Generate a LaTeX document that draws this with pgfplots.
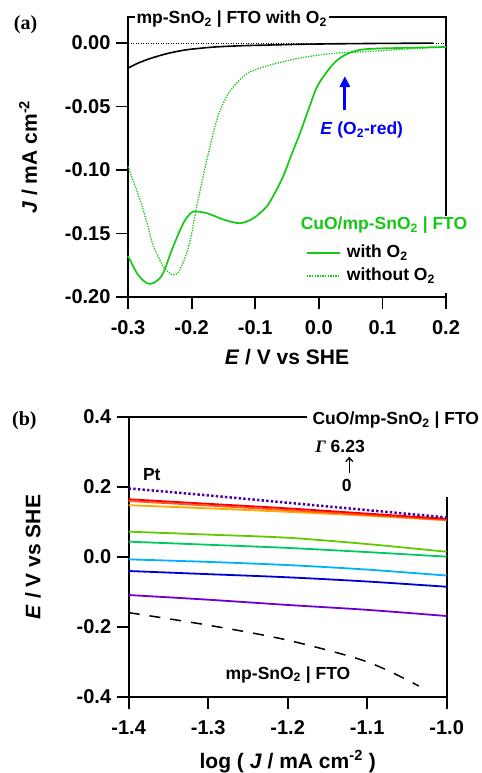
\documentclass[border=0pt]{standalone}
\usepackage{fontspec}
\setmainfont{Liberation Sans}
\newfontfamily\serif{Liberation Serif}
\usepackage{pgfplots}
\pgfplotsset{compat=1.18}
\usetikzlibrary{arrows.meta}

\definecolor{cuogreen}{RGB}{20,200,20}
\definecolor{ptpurple}{RGB}{75,0,160}
\definecolor{c1}{RGB}{255,0,0}
\definecolor{c2}{RGB}{255,90,30}
\definecolor{c3}{RGB}{255,170,0}
\definecolor{c4}{RGB}{100,200,0}
\definecolor{c5}{RGB}{0,200,100}
\definecolor{c6}{RGB}{0,175,255}
\definecolor{c7}{RGB}{0,0,210}
\definecolor{c8}{RGB}{110,0,210}

\newcommand{\tk}{\fontsize{20bp}{24bp}\selectfont\bfseries}
\newcommand{\lb}{\fontsize{21bp}{25bp}\selectfont\bfseries}
\newcommand{\an}{\fontsize{17.5bp}{21bp}\selectfont\bfseries}
\newcommand{\pl}{\fontsize{20bp}{24bp}\selectfont\serif\bfseries}

\pgfplotsset{
  panel/.style={
    scale only axis, width=318bp, height=280bp, anchor=south west,
    axis line style={line width=1.8bp},
    tick align=outside, tick pos=left,
    major tick length=12bp,
    tick style={black, line width=1.8bp},
    tick label style={font=\tk},
    xticklabel style={yshift=-8bp},
    yticklabel style={xshift=-2bp},
    label style={font=\lb},
    clip=false,
  }
}

\begin{document}
\begin{tikzpicture}
\path[use as bounding box] (0,0) rectangle (482bp,773bp);

% ---------- (a) ----------
\begin{axis}[panel,
  at={(128bp,476bp)},
  xmin=-0.3, xmax=0.2, ymin=-0.2, ymax=0.0205,
  xtick={-0.3,-0.2,-0.1,0,0.1,0.2},
  xticklabels={-0.3,-0.2,-0.1,0.0,0.1,0.2},
  ytick={-0.2,-0.15,-0.1,-0.05,0},
  yticklabels={-0.20,-0.15,-0.10,-0.05,0.00},
  xlabel={\textit{E} / V vs SHE},
  ylabel={\textit{J} / mA cm\textsuperscript{-2}},
  xlabel style={at={(axis description cs:0.5,-0.213)}, anchor=center},
  ylabel style={at={(axis description cs:-0.314,0.5)}, anchor=center},
  legend style={at={(axis cs:-0.0206,-0.1747)}, anchor=west, draw=none,
    fill=none, inner sep=0pt, row sep=2bp, font=\an,
    nodes={inner sep=1bp, text height=14bp, text depth=5bp}},
  legend cell align=left,
  legend image code/.code={\draw[#1, line width=2bp] (0bp,0.5bp) -- (33bp,0.5bp);},
]
% white mask behind the legend block (hides the right axis line there)
\fill[white] (axis cs:-0.03,-0.136) rectangle (axis cs:0.21,-0.197);
% zero line
\addplot[black, line width=1bp, dash pattern=on 1bp off 1.5bp, forget plot]
  coordinates {(-0.3,0) (0.2,0)};
% mp-SnO2 | FTO with O2
\addplot[black, line width=1.6bp, smooth, forget plot] coordinates {
  (-0.3,-0.0198) (-0.285,-0.0160) (-0.265,-0.0122) (-0.24,-0.0085)
  (-0.213,-0.0057) (-0.19,-0.0043) (-0.16,-0.0030) (-0.12,-0.0021)
  (-0.08,-0.0016) (-0.03,-0.0010) (0.03,-0.0006) (0.1,-0.0003) (0.18,-0.0001)};
% CuO/mp-SnO2 | FTO with O2
\addplot[cuogreen, line width=1.7bp, smooth] coordinates {
  (-0.3,-0.1677) (-0.2863,-0.181) (-0.275,-0.1875) (-0.2654,-0.1897)
  (-0.255,-0.1875) (-0.2445,-0.181) (-0.2288,-0.160) (-0.213,-0.1419)
  (-0.205,-0.136) (-0.197,-0.1327) (-0.176,-0.134) (-0.150,-0.139)
  (-0.124,-0.1419) (-0.103,-0.138) (-0.082,-0.1288) (-0.069,-0.118)
  (-0.056,-0.105) (-0.043,-0.088) (-0.0296,-0.0711) (-0.016,-0.052)
  (-0.0033,-0.0350) (0.01,-0.0245) (0.0228,-0.0165) (0.035,-0.0112)
  (0.049,-0.0076) (0.062,-0.0057) (0.075,-0.0048) (0.1,-0.0042)
  (0.127,-0.0039) (0.2,-0.0031)};
\addlegendentry{\hspace*{5bp}with O\textsubscript{2}}
% CuO/mp-SnO2 | FTO without O2
\addplot[cuogreen, line width=1.3bp, dash pattern=on 1.3bp off 1.3bp, smooth] coordinates {
  (-0.3,-0.0973) (-0.29,-0.111) (-0.281,-0.1236) (-0.27,-0.142)
  (-0.260,-0.160) (-0.2445,-0.176) (-0.235,-0.181) (-0.2288,-0.1826)
  (-0.22,-0.180) (-0.2077,-0.1655) (-0.2,-0.15) (-0.192,-0.1288)
  (-0.184,-0.110) (-0.176,-0.092) (-0.1605,-0.0606) (-0.147,-0.044)
  (-0.1344,-0.0344) (-0.12,-0.027) (-0.108,-0.0226) (-0.08,-0.0178)
  (-0.056,-0.0147) (-0.02,-0.011) (0.023,-0.0081) (0.075,-0.0068)
  (0.13,-0.005) (0.2,-0.003)};
\addlegendentry{\hspace*{5bp}without O\textsubscript{2}}

\node[font=\an, fill=white, inner xsep=2bp, inner ysep=1bp, anchor=west]
  at (axis cs:-0.290,0.0185) {mp-SnO\textsubscript{2} | FTO with O\textsubscript{2}};
\node[font=\an, text=cuogreen, fill=white, inner sep=1bp]
  at (axis cs:0.1025,-0.1435) {CuO/mp-SnO\textsubscript{2} | FTO};
\draw[blue, line width=2.8bp, -{Triangle[length=11bp,width=10bp]}]
  (axis cs:0.041,-0.0527) -- (axis cs:0.041,-0.026);
\node[font=\an, text=blue] at (axis cs:0.0675,-0.0685)
  {\textit{E} (O\textsubscript{2}-red)};
\node[font=\pl] at (rel axis cs:-0.322,0.971) {(a)};
\end{axis}

% ---------- (b) ----------
\begin{axis}[panel,
  at={(128.7bp,76bp)},
  xmin=-1.4, xmax=-1.0, ymin=-0.4, ymax=0.4,
  xtick={-1.4,-1.3,-1.2,-1.1,-1.0},
  xticklabels={-1.4,-1.3,-1.2,-1.1,-1.0},
  ytick={-0.4,-0.2,0,0.2,0.4},
  yticklabels={-0.4,-0.2,0.0,0.2,0.4},
  xlabel={log ( \textit{J} / mA cm\textsuperscript{-2} )},
  ylabel={\textit{E} / V vs SHE},
  xlabel style={at={(axis description cs:0.5,-0.231)}, anchor=center},
  ylabel style={at={(axis description cs:-0.301,0.5)}, anchor=center},
  every axis plot/.append style={line width=1.8bp},
]
\addplot[black, line width=1.5bp, dash pattern=on 11bp off 10bp, smooth] coordinates {
  (-1.4,-0.159) (-1.302,-0.194) (-1.2013,-0.237) (-1.1006,-0.299) (-1.035,-0.3686)};
\addplot[c8, smooth] coordinates {(-1.4,-0.1086) (-1.3,-0.122) (-1.2,-0.137) (-1.1,-0.151) (-1.0,-0.1686)};
\addplot[c7, smooth] coordinates {(-1.4,-0.040) (-1.3,-0.049) (-1.2,-0.058) (-1.1,-0.070) (-1.0,-0.085)};
\addplot[c6, smooth] coordinates {(-1.4,-0.0067) (-1.3,-0.014) (-1.2,-0.023) (-1.1,-0.036) (-1.0,-0.053)};
\addplot[c5, smooth] coordinates {(-1.4,0.0438) (-1.3,0.035) (-1.2,0.026) (-1.1,0.014) (-1.0,0.001)};
\addplot[c4, smooth] coordinates {(-1.4,0.0724) (-1.3,0.064) (-1.2,0.055) (-1.1,0.037) (-1.0,0.015)};
\addplot[c3, smooth] coordinates {(-1.4,0.148) (-1.3,0.139) (-1.2,0.129) (-1.1,0.118) (-1.0,0.105)};
\addplot[c2, smooth] coordinates {(-1.4,0.160) (-1.3,0.147) (-1.2,0.134) (-1.1,0.120) (-1.0,0.106)};
\addplot[c1, smooth] coordinates {(-1.4,0.165) (-1.3,0.152) (-1.2,0.139) (-1.1,0.124) (-1.0,0.109)};
\addplot[ptpurple, line width=2.5bp, dash pattern=on 2.4bp off 2.2bp, smooth] coordinates {
  (-1.4,0.196) (-1.3,0.176) (-1.2,0.155) (-1.1,0.134) (-1.0,0.113)};

\fill[white] (rel axis cs:0.56,1.04) rectangle (rel axis cs:1.03,0.714);
\node[font=\an] at (axis cs:-1.064,0.391) {CuO/mp-SnO\textsubscript{2} | FTO};
\node[font=\an] at (axis cs:-1.1342,0.315) {{\serif\itshape Γ} 6.23};
\draw[line width=1.3bp, -{Straight Barb[length=4bp,width=7bp]}]
  (axis cs:-1.1225,0.239) -- (axis cs:-1.1225,0.2866);
\node[font=\an] at (axis cs:-1.1258,0.203) {0};
\node[font=\an] at (axis cs:-1.371,0.236) {Pt};
\node[font=\an] at (axis cs:-1.1996,-0.337) {mp-SnO\textsubscript{2} | FTO};
\node[font=\pl] at (rel axis cs:-0.328,0.9875) {(b)};
\end{axis}
\end{tikzpicture}
\end{document}
